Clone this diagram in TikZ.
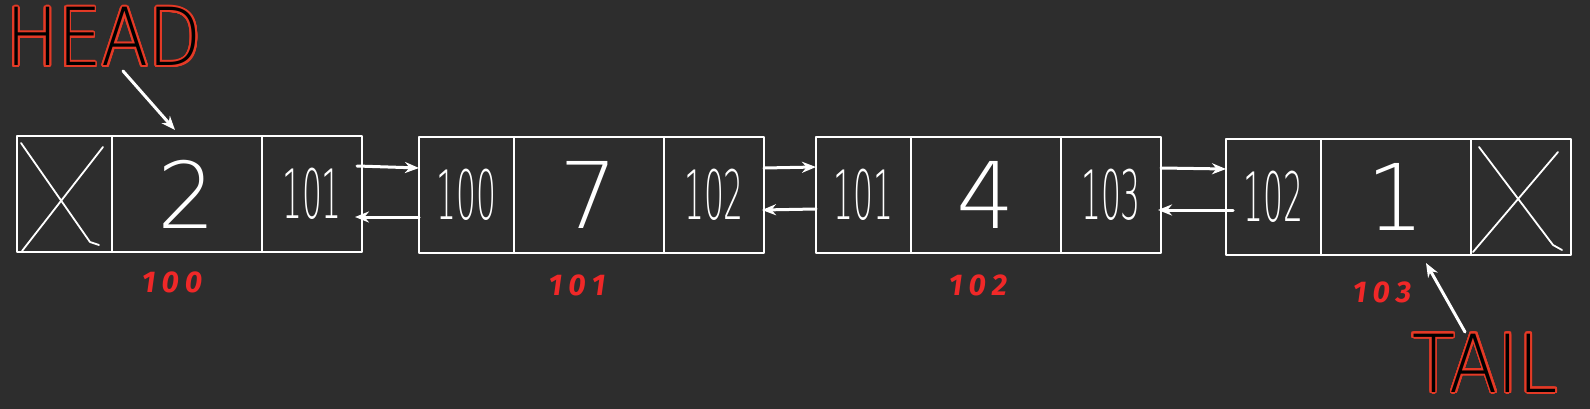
\documentclass[tikz,border=0pt]{standalone}
\usepackage{fontspec}
\usepackage[copies]{contour}
\usetikzlibrary{arrows.meta,positioning}

\setsansfont{Fira Sans}
\newfontfamily\handfont{DejaVu Sans ExtraLight}
\definecolor{bgdark}{RGB}{45,45,45}
\definecolor{tagred}{RGB}{228,58,38}
\definecolor{addrred}{RGB}{240,40,40}
\contourlength{2pt}
\contournumber{32}
\newcommand{\squeeze}[1]{\scalebox{0.46}[1]{#1}}

\begin{document}
\begin{tikzpicture}[x=1pt,y=-1pt,>=Stealth,line cap=round,line join=round,
  cell/.style={draw=white,line width=1.6pt,minimum height=116pt,inner sep=0pt,outer sep=0pt,text=white},
  prevcell/.style={cell,minimum width=95pt,font=\handfont\fontsize{68}{68}\selectfont},
  valcell/.style={cell,minimum width=150pt,font=\handfont\fontsize{92}{92}\selectfont},
  nextcell/.style={cell,minimum width=100pt,font=\handfont\fontsize{68}{68}\selectfont},
  link/.style={white,line width=3pt,-{Stealth[length=14pt,width=11pt]}},
  xmark/.style={white,line width=1.8pt},
  addr/.style={text=addrred,font=\sffamily\bfseries\itshape\fontsize{30}{30}\selectfont},
  tag/.style={anchor=base,inner sep=0pt,font=\handfont\fontsize{80}{80}\selectfont}]
  \fill[bgdark] (0,0) rectangle (1590,409);
  \useasboundingbox (0,0) rectangle (1590,409);

  % the four list nodes
  \node[prevcell] (n1p) at (64.5,194) {};
  \node[valcell,right=0pt of n1p] (n1v) {2};
  \node[nextcell,right=0pt of n1v] (n1n) {\squeeze{101}};

  \node[prevcell] (n2p) at (466.5,195) {\squeeze{100}};
  \node[valcell,right=0pt of n2p] (n2v) {7};
  \node[nextcell,right=0pt of n2v] (n2n) {\squeeze{102}};

  \node[prevcell] (n3p) at (863.5,195) {\squeeze{101}};
  \node[valcell,right=0pt of n3p] (n3v) {4};
  \node[nextcell,right=0pt of n3v] (n3n) {\squeeze{103}};

  \node[prevcell] (n4p) at (1273.5,197) {\squeeze{102}};
  \node[valcell,right=0pt of n4p] (n4v) {1};
  \node[nextcell,right=0pt of n4v] (n4n) {};

  % null pointers
  \draw[xmark] ([shift={(4,7)}]n1p.north west) -- ([shift={(73,106)}]n1p.north west) -- ([shift={(82,109)}]n1p.north west);
  \draw[xmark] ([shift={(86,11)}]n1p.north west) -- ([shift={(5,115)}]n1p.north west);
  \draw[xmark] ([shift={(8,8)}]n4n.north west) -- ([shift={(82,106)}]n4n.north west) -- ([shift={(91,111)}]n4n.north west);
  \draw[xmark] ([shift={(87,13)}]n4n.north west) -- ([shift={(2,113)}]n4n.north west);

  % next / prev links
  \draw[link] ([xshift=-5pt,yshift=28pt]n1n.east) -- ([yshift=27pt]n2p.west);
  \draw[link] ([yshift=-22pt]n2p.west) -- ([xshift=-7pt,yshift=-23pt]n1n.east);
  \draw[link] ([yshift=27pt]n2n.east) -- ([yshift=28pt]n3p.west);
  \draw[link] ([yshift=-14pt]n3p.west) -- ([xshift=-2pt,yshift=-15pt]n2n.east);
  \draw[link] ([yshift=27pt]n3n.east) -- ([yshift=28pt]n4p.west);
  \draw[link] ([xshift=7pt,yshift=-13pt]n4p.west) -- ([xshift=-3pt,yshift=-15pt]n3n.east);

  % addresses
  \node[addr] (a100) at (172,282) {1\hspace{6pt}0\hspace{6pt}0};
  \node[addr] (a101) at (577,285) {1\hspace{6pt}0\hspace{6pt}1};
  \node[addr] (a102) at (978,285) {1\hspace{6pt}0\hspace{6pt}2};
  \node[addr] (a103) at (1382,292) {1\hspace{6pt}0\hspace{6pt}3};

  % head and tail
  \node[tag] (head) at (104,66) {\scalebox{0.86}[1]{\color{black}\contour{tagred}{HEAD}}};
  \node[tag] (tail) at (1485,392) {\scalebox{0.88}[1]{\color{black}\contour{tagred}{TAIL}}};
  \coordinate (headfoot) at (123,71);
  \coordinate (tailfoot) at (1465,332);
  \draw[link] (headfoot) -- ([xshift=-12pt,yshift=6pt]n1v.north);
  \draw[link] (tailfoot) -- ([xshift=30pt,yshift=-8pt]n4v.south);
\end{tikzpicture}
\end{document}
